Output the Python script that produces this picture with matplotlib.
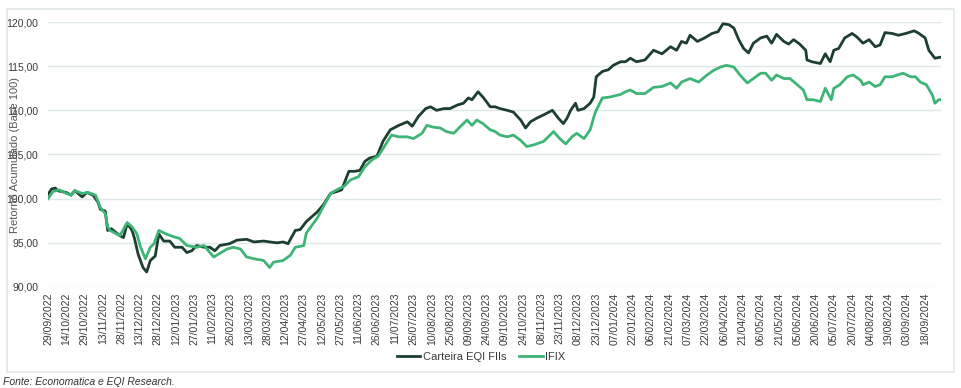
import datetime as dt
import matplotlib
matplotlib.use("Agg")
import matplotlib.pyplot as plt
from matplotlib.patches import Rectangle

plt.rcParams['font.family'] = ['Liberation Sans', 'DejaVu Sans']

# dados (dias desde 29/09/2022, valor base 100)
inicio = dt.date(2022, 9, 29)

dias_eqi = [0, 3, 6, 8, 15, 19, 22, 28, 32, 37, 41, 43, 47, 49, 52, 59, 62, 65, 69, 71,
            74, 78, 81, 84, 88, 91, 95, 100, 104, 110, 114, 118, 122, 128, 133, 137, 141, 149, 155, 163,
            169, 177, 182, 188, 193, 197, 203, 207, 212, 221, 226, 232, 237, 241, 247, 252, 256, 260, 264, 270,
            275, 281, 288, 295, 299, 304, 310, 314, 319, 325, 330, 336, 341, 345, 348, 353, 357, 363, 367, 371,
            377, 382, 388, 392, 396, 401, 407, 414, 419, 423, 426, 429, 433, 435, 440, 445, 448, 450, 455, 460,
            464, 470, 474, 478, 483, 490, 497, 504, 511, 516, 520, 524, 527, 533, 539, 545, 550, 554, 559, 563,
            567, 571, 575, 579, 585, 590, 594, 598, 604, 608, 612, 617, 622, 623, 627, 634, 638, 642, 645, 649,
            654, 660, 664, 669, 674, 679, 683, 687, 693, 698, 704, 711, 715, 720, 723, 728, 732]
carteira_eqi = [100.5, 101.1, 101.2, 100.9, 100.7, 100.4, 100.9, 100.2, 100.7, 100.4, 99.6, 98.8, 98.6, 96.4, 96.6, 95.8, 95.6, 97.2, 96.4, 95.5,
                93.7, 92.2, 91.7, 93.0, 93.5, 96.0, 95.2, 95.2, 94.5, 94.5, 93.9, 94.1, 94.7, 94.5, 94.5, 94.1, 94.7, 94.9, 95.3, 95.4,
                95.1, 95.2, 95.1, 95.0, 95.1, 94.9, 96.4, 96.5, 97.4, 98.5, 99.3, 100.6, 100.8, 101.0, 103.1, 103.1, 103.2, 104.2, 104.6, 104.8,
                106.5, 107.8, 108.3, 108.7, 108.2, 109.3, 110.2, 110.4, 110.0, 110.2, 110.2, 110.6, 110.8, 111.4, 111.2, 112.1, 111.5, 110.4, 110.4, 110.2,
                110.0, 109.8, 108.9, 108.0, 108.7, 109.1, 109.5, 110.0, 109.1, 108.5, 109.1, 110.0, 110.8, 110.0, 110.2, 110.8, 111.5, 113.8, 114.4, 114.6,
                115.1, 115.5, 115.5, 115.9, 115.5, 115.7, 116.8, 116.4, 117.2, 116.8, 117.8, 117.6, 118.5, 117.8, 118.2, 118.7, 118.9, 119.8, 119.7, 119.3,
                118.0, 117.0, 116.5, 117.6, 118.2, 118.4, 117.6, 118.6, 117.8, 117.5, 118.0, 117.5, 116.8, 115.7, 115.5, 115.3, 116.4, 115.5, 116.8, 117.0,
                118.2, 118.7, 118.3, 117.6, 118.0, 117.2, 117.4, 118.8, 118.7, 118.5, 118.7, 119.0, 118.7, 118.2, 116.8, 115.9, 116.0]

dias_ifix = [0, 4, 9, 15, 19, 22, 28, 33, 39, 43, 47, 49, 51, 59, 65, 69, 73, 76, 80, 84,
             87, 91, 97, 103, 108, 114, 122, 128, 136, 141, 147, 152, 158, 163, 169, 177, 182, 185, 193, 199,
             203, 207, 210, 212, 221, 226, 232, 237, 243, 248, 255, 260, 266, 271, 277, 282, 288, 295, 300, 307,
             311, 316, 322, 327, 333, 338, 344, 348, 352, 357, 363, 367, 371, 377, 382, 388, 393, 399, 407, 415,
             420, 425, 430, 434, 440, 445, 449, 455, 461, 470, 474, 478, 483, 490, 497, 504, 511, 516, 520, 527,
             534, 541, 546, 552, 557, 563, 568, 574, 579, 585, 589, 594, 598, 604, 609, 615, 620, 623, 628, 634,
             638, 643, 645, 650, 656, 661, 667, 669, 674, 679, 683, 687, 693, 697, 702, 708, 712, 716, 721, 726,
             728, 731, 732]
ifix = [100.0, 100.8, 101.0, 100.6, 100.4, 100.9, 100.6, 100.7, 100.4, 99.0, 98.3, 96.8, 96.4, 95.8, 97.3, 96.8, 96.0, 94.5, 93.2, 94.5,
        94.9, 96.4, 96.0, 95.7, 95.5, 94.7, 94.5, 94.7, 93.4, 93.8, 94.3, 94.5, 94.3, 93.4, 93.2, 93.0, 92.2, 92.8, 93.0, 93.6,
        94.5, 94.6, 94.7, 96.1, 97.8, 99.1, 100.6, 101.0, 101.4, 102.1, 102.5, 103.6, 104.4, 104.8, 106.1, 107.2, 107.0, 107.0, 106.8, 107.4,
        108.3, 108.1, 108.0, 107.6, 107.4, 108.1, 108.9, 108.3, 108.9, 108.5, 107.8, 107.6, 107.2, 107.0, 107.2, 106.6, 105.9, 106.1, 106.5, 107.6,
        106.8, 106.2, 107.0, 107.4, 106.8, 107.8, 109.7, 111.4, 111.5, 111.8, 112.1, 112.3, 111.9, 111.9, 112.6, 112.7, 113.1, 112.5, 113.2, 113.6,
        113.2, 114.0, 114.5, 114.9, 115.1, 114.9, 114.0, 113.1, 113.6, 114.2, 114.2, 113.4, 114.0, 113.6, 113.6, 112.9, 112.3, 111.2, 111.2, 111.0,
        112.5, 111.2, 112.5, 112.9, 113.8, 114.0, 113.4, 112.9, 113.2, 112.7, 112.9, 113.8, 113.8, 114.0, 114.2, 113.8, 113.8, 113.2, 112.9, 111.7,
        110.8, 111.2, 111.2]

cor_eqi = '#1d3f30'
cor_ifix = '#3fb477'

fig = plt.figure(figsize=(9.61, 3.88), dpi=100)
ax = fig.add_axes([48/961, 1 - 287/388, 893/961, 265/388])

# moldura clara em volta do grafico
fig.patches.append(Rectangle((7/961, 1 - 372/388), 947/961, 363/388, transform=fig.transFigure,
                             fill=False, edgecolor='#e1e7e7', lw=1.2))

ax.plot(dias_eqi, carteira_eqi, color=cor_eqi, lw=2.0, label='Carteira EQI FIIs')
ax.plot(dias_ifix, ifix, color=cor_ifix, lw=2.0, label='IFIX')

ax.set_xlim(0, 733)
ax.set_ylim(90, 120)
ax.set_yticks(range(90, 121, 5))
ax.set_yticklabels([f'{v},00' for v in range(90, 121, 5)])

ticks = list(range(0, 721, 15))
ax.set_xticks(ticks)
ax.set_xticklabels([(inicio + dt.timedelta(days=d)).strftime('%d/%m/%Y') for d in ticks], rotation=90)

ax.grid(axis='y', color='#dfe8e8', lw=1.0)
ax.set_axisbelow(True)
for s in ax.spines.values():
    s.set_visible(False)
ax.tick_params(length=0, labelsize=7.5, colors='#3a3a3a')
ax.tick_params(axis='x', pad=4)
ax.tick_params(axis='y', pad=7)

fig.text(15/961, 1 - 155/388, 'Retorno Acumulado (Base 100)', rotation=90, ha='center', va='center',
         fontsize=8, color='#555555')

fig.legend(loc='center', bbox_to_anchor=(481/961, 1 - 357/388), ncol=2, frameon=False,
           fontsize=8, handlelength=2.1, handletextpad=0.2, columnspacing=1.2, labelcolor='#3a3a3a')

fig.text(3/961, 1 - 382/388, 'Fonte: Economatica e EQI Research.', style='italic', fontsize=7.5,
         color='#333333', ha='left', va='center')

fig.savefig('out.png', dpi=100)
